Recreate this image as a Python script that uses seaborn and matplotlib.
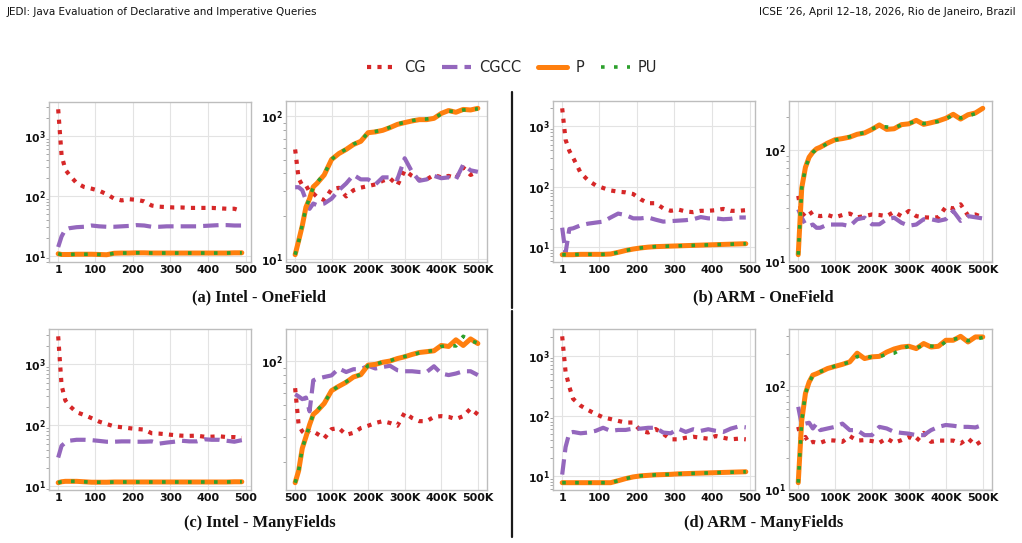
import numpy as np
import matplotlib
matplotlib.use("Agg")
import matplotlib.pyplot as plt
import seaborn as sns
from matplotlib.lines import Line2D
from matplotlib.ticker import FuncFormatter, NullFormatter, FixedLocator

# ---------------- data ----------------
XL = [1, 10, 20, 30, 50, 70, 90, 110, 130, 150, 170, 190, 210, 230, 250,
      270, 290, 310, 330, 350, 370, 390, 410, 430, 450, 470, 490]
XR = [500, 10000, 20000, 30000, 40000, 50000, 60000] + list(range(80000, 500001, 20000))

XL_TICKS = [1, 100, 200, 300, 400, 500]
XL_LABELS = ["1", "100", "200", "300", "400", "500"]
XR_TICKS = [500, 100000, 200000, 300000, 400000, 500000]
XR_LABELS = ["500", "100K", "200K", "300K", "400K", "500K"]

SERIES = ["CG", "CGCC", "P", "PU"]

# (a) Intel - OneField
a_l_cg = [2800, 480, 275, 227, 164, 141, 132, 122, 107, 90, 84, 88, 86, 81, 69, 66, 65, 64, 64, 63, 63, 63, 63, 62, 61, 61, 56]
a_l_cgcc = [14, 21, 27.5, 28.8, 30, 30.5, 32, 31, 30.5, 30.5, 31, 31.5, 32.5, 32, 30.5, 30.5, 31, 31, 31, 31, 31, 31.5, 32, 32.5, 32.5, 32, 32]
a_l_p = [10.8, 10.5, 10.5, 10.5, 10.6, 10.6, 10.6, 10.5, 10.4, 11.0, 11.1, 11.1, 11.2, 11.2, 11.1, 11.1, 11.1, 11.1, 11.1, 11.1, 11.1, 11.1, 11.1, 11.1, 11.1, 11.2, 11.2]
a_l_pu = [10.8, 10.5, 10.5, 10.5, 10.6, 10.6, 10.6, 10.5, 10.4, 11.0, 11.1, 11.1, 11.2, 11.2, 11.1, 11.1, 11.1, 11.1, 11.1, 11.1, 11.1, 11.1, 11.1, 11.1, 11.1, 11.2, 11.2]
a_r_cg = [58.8, 36.9, 33, 33, 29.7, 29, 27.4, 26, 31, 31.7, 27.6, 30.5, 31.8, 32.6, 33.5, 35.5, 36.9, 33, 42, 38.4, 36, 36.3, 39, 37.5, 38.4, 37, 44, 39, 41]
a_r_cgcc = [32, 32, 30.5, 26, 22.6, 24.6, 24, 24.6, 26.6, 30.5, 34, 39, 36.3, 36.3, 33.5, 37.5, 37.5, 36.3, 51, 41, 35.5, 36.3, 38.4, 37, 37.5, 36.3, 46, 42, 41]
a_r_p = [10.8, 13.5, 17.2, 23.2, 26.6, 32.2, 34, 39, 50, 55, 58.8, 63.7, 67, 77, 78, 80, 83.6, 88, 90.6, 93, 95, 95, 97, 105, 110, 107, 112, 111, 114]
a_r_pu = [10.8, 13.3, 17.5, 23, 27, 32, 34.5, 39.5, 50, 55.5, 59, 64, 67.5, 77, 78.5, 80.5, 84, 88.5, 91, 93.5, 95.5, 96, 97.5, 104, 109, 108, 111, 112, 113]

# (b) ARM - OneField
b_l_cg = [2000, 604, 395, 305, 171, 128, 106, 95.6, 87, 83, 81, 76, 62, 53.5, 53.5, 44, 40, 42, 39, 38, 40, 40, 41, 43, 40, 40, 41]
b_l_cgcc = [21, 8, 20, 20.5, 23, 24.5, 25.5, 26.5, 31, 36, 34, 30, 30, 31, 28.5, 26.5, 27, 27.5, 28, 29, 31.5, 30, 30, 29, 29.5, 31, 31]
b_l_p = [7.5, 7.5, 7.5, 7.5, 7.6, 7.6, 7.6, 7.6, 7.7, 8.2, 8.8, 9.3, 9.7, 10.0, 10.2, 10.3, 10.4, 10.5, 10.6, 10.7, 10.8, 10.9, 11.0, 11.1, 11.2, 11.3, 11.4]
b_l_pu = [7.5, 7.5, 7.5, 7.5, 7.6, 7.6, 7.6, 7.6, 7.7, 8.2, 8.8, 9.3, 9.7, 10.0, 10.2, 10.3, 10.4, 10.5, 10.6, 10.7, 10.8, 10.9, 11.0, 11.1, 11.2, 11.3, 11.4]
b_r_cg = [39, 25.6, 27.5, 28.9, 26, 26, 25.6, 26.2, 25, 26.2, 27, 25, 25.6, 26.5, 26.2, 25.6, 28, 25.6, 28.5, 25.6, 25, 24.8, 25, 31, 30, 32.7, 26, 26.5, 25]
b_r_cgcc = [29.5, 24.8, 21.5, 20.8, 21.5, 20.1, 20.1, 21.5, 21.5, 21.5, 20.8, 24, 24.8, 21.6, 21.6, 24, 24.8, 22.3, 21, 21.5, 24, 24, 23.2, 24, 28.5, 23.2, 25.6, 25, 24.4]
b_r_p = [11.5, 46, 70.5, 87, 96.6, 103.6, 107, 116.6, 125, 128, 132, 140, 144, 155, 170, 155, 157, 171, 174, 187, 172, 178, 185, 195, 212, 192, 210, 218, 240]
b_r_pu = [11.5, 46, 70, 86, 96, 103, 106, 116, 124, 128, 133, 140, 145, 157, 165, 163, 160, 170, 176, 183, 175, 178, 183, 192, 210, 196, 205, 215, 235]

# (c) Intel - ManyFields
c_l_cg = [2900, 454, 257, 212, 164, 148, 131, 115, 105, 96, 93, 89.7, 87, 85, 74, 73, 71, 69, 67.5, 67, 67.5, 65, 65, 66, 64, 64, 62]
c_l_cgcc = [29.5, 46, 52, 55.7, 57.8, 57.8, 57, 55.4, 53.7, 53.7, 54.4, 54.4, 53.7, 53.7, 54.4, 50, 52, 53.7, 55.7, 54.4, 54.4, 59, 57.8, 57.8, 55.7, 53.7, 57]
c_l_p = [11.4, 11.8, 12.0, 12.0, 12.0, 11.8, 11.6, 11.6, 11.6, 11.7, 11.7, 11.7, 11.7, 11.7, 11.7, 11.7, 11.7, 11.7, 11.7, 11.7, 11.7, 11.7, 11.7, 11.7, 11.7, 11.8, 11.8]
c_l_pu = [11.4, 11.8, 12.0, 12.0, 12.0, 11.8, 11.6, 11.6, 11.6, 11.7, 11.7, 11.7, 11.7, 11.7, 11.7, 11.7, 11.7, 11.7, 11.7, 11.7, 11.7, 11.7, 11.7, 11.7, 11.7, 11.8, 11.8]
c_r_cg = [65, 36.4, 32.7, 31, 33.6, 32.7, 31.6, 29.3, 33.9, 34.5, 31, 32, 34.5, 35.8, 37.4, 38.5, 37.4, 35.8, 44, 40.5, 38.5, 38.5, 41.2, 41.7, 41.2, 39.8, 41.7, 47, 42.8]
c_r_cgcc = [59, 57, 54.6, 56, 45, 73.5, 75.5, 77.6, 79.6, 88.8, 84, 87.8, 87.8, 92.7, 88.8, 91, 92.7, 86.4, 85, 85, 84, 84, 92, 82, 80, 82, 85, 85, 80]
c_r_p = [14.5, 17.5, 25, 30, 36.4, 42.8, 45, 51, 62.5, 67, 71.4, 77.6, 80.5, 93.7, 94.8, 98, 100, 104, 107, 111, 114.5, 116, 117.6, 128, 126, 140, 128, 142, 132]
c_r_pu = [14.5, 17.5, 25, 30, 36, 43, 45.5, 51.5, 62, 67.5, 72, 77, 81, 93, 95, 98.5, 100.5, 104.5, 107.5, 110, 114, 116.5, 118, 126, 128, 127, 148, 138, 133]

# (d) ARM - ManyFields
d_l_cg = [2090, 537, 302, 191, 147, 124, 107, 94, 88, 82, 77, 77, 56, 52.5, 60, 50, 40.5, 40.5, 43, 44.7, 43, 41.5, 46, 43, 40.5, 41.5, 40.5]
d_l_cgcc = [10.5, 30, 52, 53.7, 51, 52.5, 56, 63, 56, 58, 58, 61, 61, 63, 63, 52.5, 51, 61, 53.7, 59.6, 56, 59.6, 56, 53.7, 61, 66, 64]
d_l_p = [7.7, 7.7, 7.7, 7.7, 7.7, 7.7, 7.7, 7.7, 7.7, 8.3, 9.0, 9.6, 10.0, 10.2, 10.4, 10.5, 10.6, 10.8, 10.9, 11.0, 11.1, 11.2, 11.3, 11.4, 11.5, 11.6, 11.7]
d_l_pu = [7.7, 7.7, 7.7, 7.7, 7.7, 7.7, 7.7, 7.7, 7.7, 8.3, 9.0, 9.6, 10.0, 10.2, 10.4, 10.5, 10.6, 10.8, 10.9, 11.0, 11.1, 11.2, 11.3, 11.4, 11.5, 11.6, 11.7]
d_r_cg = [40, 28.7, 32, 27.7, 28.7, 28.1, 28.1, 29.8, 29.5, 28.7, 32.6, 29.5, 29.8, 29.2, 28.1, 31, 28.1, 29.8, 32, 29.2, 35, 28.7, 29.5, 29.5, 29.5, 27.7, 31, 26.7, 29.8]
d_r_cgcc = [62.4, 41.7, 43, 43.8, 38.6, 43, 37.2, 38.6, 40, 43, 37.2, 37.2, 33.3, 33.3, 40, 38.6, 35.8, 35, 34.4, 33.3, 33.3, 37.2, 40, 41.7, 41, 40, 40, 39.5, 41.7]
d_r_p = [11.6, 46, 84, 108, 126, 130, 135, 146, 153, 160, 169, 205, 182, 189, 191, 210, 225, 235, 239, 227, 254, 235, 239, 273, 273, 298, 263, 294, 294]
d_r_pu = [11.6, 46, 84, 107, 125, 131, 136, 145, 154, 161, 168, 190, 195, 186, 190, 200, 205, 225, 240, 230, 245, 240, 235, 265, 280, 285, 270, 280, 290]

CAPTIONS = ["(a) Intel - OneField", "(b) ARM - OneField",
            "(c) Intel - ManyFields", "(d) ARM - ManyFields"]
HEADER_LEFT = "JEDI: Java Evaluation of Declarative and Imperative Queries"
HEADER_RIGHT = "ICSE \u201926, April 12\u201318, 2026, Rio de Janeiro, Brazil"

# ---------------- style ----------------
sns.set_style("whitegrid")
plt.rcParams["font.family"] = ["DejaVu Sans"]
plt.rcParams["mathtext.fontset"] = "dejavusans"

COLORS = {"CG": "#d62728", "CGCC": "#9467bd", "P": "#ff7f0e", "PU": "#2ca02c"}
STYLES = {"CG": dict(linestyle=(0, (1, 1.5)), lw=3.0),
          "CGCC": dict(linestyle=(0, (3.7, 1.7)), lw=3.0),
          "P": dict(linestyle="-", lw=3.6),
          "PU": dict(linestyle=(0, (1, 2.6)), lw=2.6)}

W, H = 1022, 543
fig = plt.figure(figsize=(W / 100, H / 100), dpi=100)


def rect(x0, y0, x1, y1):
    return [x0 / W, 1 - y1 / H, (x1 - x0) / W, (y1 - y0) / H]


def ylab(v, _):
    e = int(round(np.log10(v)))
    return r"$\mathbf{10^{%d}}$" % e


def panel(box, x, cg, cgcc, p, pu, right):
    ax = fig.add_axes(rect(*box))
    for name, ys in zip(SERIES, [cg, cgcc, p, pu]):
        st = STYLES[name]
        sns.lineplot(x=x, y=ys, ax=ax, color=COLORS[name], linestyle=st["linestyle"],
                     lw=st["lw"], label=name, legend=False)
    ax.set_yscale("log")
    ax.yaxis.set_major_formatter(FuncFormatter(ylab))
    ax.yaxis.set_minor_formatter(NullFormatter())
    if right:
        ax.xaxis.set_major_locator(FixedLocator(XR_TICKS))
        ax.set_xticklabels(XR_LABELS)
    else:
        ax.xaxis.set_major_locator(FixedLocator(XL_TICKS))
        ax.set_xticklabels(XL_LABELS)
    ax.tick_params(axis="x", which="major", labelsize=8, length=0, pad=2, labelcolor="#111111")
    ax.tick_params(axis="y", which="major", labelsize=7.8, length=0, pad=2, labelcolor="#111111")
    ax.tick_params(axis="y", which="minor", left=True, length=2, width=0.6, color="#999999")
    for lab in ax.get_xticklabels():
        lab.set_fontweight("bold")
    ax.grid(True, which="major", color="#e3e3e3", lw=0.8)
    ax.grid(False, which="minor")
    for s in ax.spines.values():
        s.set_color("#bdbdbd")
        s.set_linewidth(1.0)
    ax.set_xlabel("")
    ax.set_ylabel("")
    return ax


panel((49, 102, 251, 262), XL, a_l_cg, a_l_cgcc, a_l_p, a_l_pu, False)
panel((286, 101, 487, 262), XR, a_r_cg, a_r_cgcc, a_r_p, a_r_pu, True)
panel((553, 101, 755, 262), XL, b_l_cg, b_l_cgcc, b_l_p, b_l_pu, False)
panel((789, 101, 992, 262), XR, b_r_cg, b_r_cgcc, b_r_p, b_r_pu, True)
panel((49, 329, 251, 490), XL, c_l_cg, c_l_cgcc, c_l_p, c_l_pu, False)
panel((286, 329, 487, 490), XR, c_r_cg, c_r_cgcc, c_r_p, c_r_pu, True)
panel((553, 329, 755, 490), XL, d_l_cg, d_l_cgcc, d_l_p, d_l_pu, False)
panel((789, 329, 992, 490), XR, d_r_cg, d_r_cgcc, d_r_p, d_r_pu, True)

# captions
cap_pos = [(259, 297), (763, 297), (260, 523), (764, 523)]
for (cx, cy), t in zip(cap_pos, CAPTIONS):
    fig.text(cx / W, 1 - cy / H, t, ha="center", va="center", fontsize=11.8,
             fontweight="bold", family=["Liberation Serif", "DejaVu Serif"], color="#111111")

# header
fig.text(7 / W, 1 - 12 / H, HEADER_LEFT, ha="left", va="center", fontsize=7.5, color="#111111")
fig.text(1016 / W, 1 - 12 / H, HEADER_RIGHT, ha="right", va="center", fontsize=7.5, color="#111111")

# separators
fig.add_artist(Line2D([512 / W, 512 / W], [1 - 92 / H, 1 - 308 / H], color="#1a1a1a", lw=1.6))
fig.add_artist(Line2D([512 / W, 512 / W], [1 - 311 / H, 1 - 537 / H], color="#1a1a1a", lw=1.6))

# legend
handles = [Line2D([], [], color=COLORS[n], linestyle=STYLES[n]["linestyle"], lw=STYLES[n]["lw"])
           for n in SERIES]
fig.legend(handles, SERIES, loc="center", bbox_to_anchor=(512 / W, 1 - 68 / H), ncol=4,
           frameon=False, fontsize=10.5, handlelength=2.0, handletextpad=0.55,
           columnspacing=1.15)

fig.savefig("out.png", dpi=100)
